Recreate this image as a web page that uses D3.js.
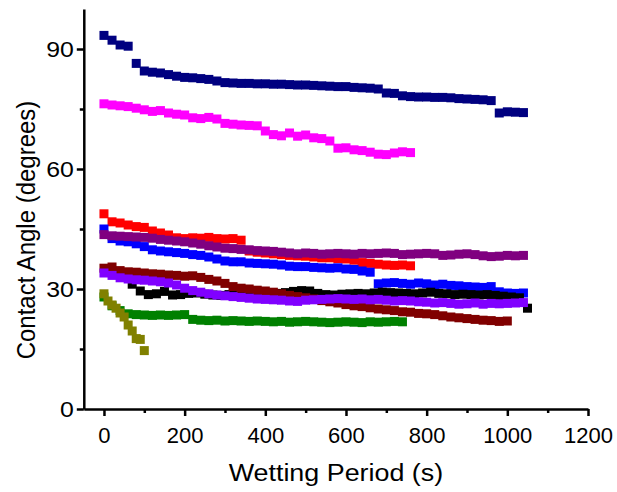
<!DOCTYPE html>
<html>
  <head>
    <meta charset="utf-8"/>
    <script src="https://d3js.org/d3.v7.min.js"></script>
    <style type="text/css">

html, body {
  margin: 0;
  padding: 0;
  background: #fff;
}

svg text {
  font-family: Arial, "Liberation Sans", sans-serif;
  fill: #000;
}

.axis path, .axis line {
  stroke: #000;
  stroke-width: 2.5px;
}

    </style>
  </head>
  <body>
    <svg id="chart" width="617" height="492"></svg>
    <script type="text/javascript">

// axis ticks
var xTicks = [0, 200, 400, 600, 800, 1000, 1200],
    xMinor = [100, 300, 500, 700, 900, 1100],
    yTicks = [0, 30, 60, 90],
    yMinor = [15, 45, 75];

// contact angle readings, one value every 20 s unless noted
var navy = [93.4, 92.2, 91.0, 90.7, 86.4, 84.5, 84.2, 84.0, 83.6, 83.2, 82.9, 82.8, 82.6, 82.4, 82.0, 81.6,
  81.5, 81.4, 81.4, 81.3, 81.3, 81.2, 81.2, 81.1, 81.0, 81.0, 80.9, 80.8, 80.7, 80.6, 80.6, 80.4, 80.3,
  80.2, 80.0, 79.0, 78.9, 78.3, 78.1, 78.0, 78.0, 77.9, 77.9, 77.8, 77.6, 77.5, 77.4, 77.3, 77.1, 74.0,
  74.3, 74.2, 74.1];
var magenta = [76.3, 76.0, 75.8, 75.6, 75.2, 74.8, 74.4, 74.6, 74.0, 73.7, 73.5, 72.8, 72.6, 72.9, 72.5,
  71.4, 71.2, 71.0, 70.9, 70.8, 69.5, 68.6, 68.3, 69.0, 68.2, 68.5, 67.8, 67.6, 67.0, 65.2, 65.3, 64.8,
  64.6, 64.2, 63.7, 63.6, 64.0, 64.3, 64.1];
var red = [48.8, 46.8, 46.5, 46.0, 45.6, 45.4, 44.5, 44.0, 43.5, 42.8, 42.6, 42.8, 42.7, 42.9, 42.6, 42.5,
  42.6, 42.2, 39.5, 39.2, 39.0, 38.8, 38.6, 38.4, 38.3, 38.2, 38.0, 37.8, 37.8, 37.6, 37.5, 37.2, 36.6,
  36.4, 36.2, 36.0, 35.9, 36.0, 35.8];
var blue = [45.0, 42.6, 42.0, 41.8, 41.3, 40.6, 39.8, 39.5, 39.3, 39.1, 38.9, 38.6, 38.4, 38.0, 37.5, 37.0,
  36.8, 36.8, 36.5, 36.4, 36.3, 36.2, 36.0, 35.7, 35.6, 35.6, 35.4, 35.3, 35.2, 35.3, 35.0, 34.9, 34.5,
  34.2, 31.3, 31.5, 31.6, 31.4, 31.2, 31.5, 31.3, 31.0, 31.2, 30.9, 30.8, 30.6, 30.5, 30.4, 30.6, 29.3,
  29.0, 28.9, 29.0];
var purple = [43.6, 43.3, 43.2, 43.1, 43.0, 42.9, 42.7, 42.4, 42.2, 42.0, 41.8, 41.5, 41.2, 40.8, 40.5,
  40.2, 40.1, 39.9, 39.8, 39.6, 39.5, 39.4, 39.2, 39.0, 38.8, 39.0, 38.9, 38.7, 38.8, 38.9, 38.8, 38.7,
  38.9, 38.8, 38.9, 39.0, 38.9, 38.6, 38.7, 38.8, 38.9, 38.8, 38.4, 38.5, 38.7, 38.8, 38.6, 38.3, 38.1,
  38.2, 38.4, 38.3, 38.4];
var maroon = [35.2, 35.5, 34.6, 34.3, 34.2, 34.0, 33.8, 33.7, 33.5, 33.4, 33.2, 33.3, 32.9, 32.4, 32.0,
  31.4, 30.6, 30.2, 30.0, 29.7, 29.5, 29.2, 28.8, 28.4, 28.1, 27.8, 27.5, 27.1, 26.8, 26.5, 26.1, 25.8,
  25.6, 25.3, 25.0, 24.8, 24.6, 24.3, 24.2, 23.9, 23.8, 23.6, 23.3, 23.0, 22.8, 22.6, 22.4, 22.2, 22.1,
  21.9, 22.0];
var violet = [34.0, 33.4, 32.8, 32.5, 32.3, 32.2, 32.0, 31.8, 31.5, 31.0, 30.2, 29.6, 29.2, 28.8, 28.5,
  28.3, 28.1, 27.9, 27.7, 27.5, 27.4, 27.3, 27.2, 27.0, 26.9, 27.2, 27.3, 27.4, 27.5, 27.6, 27.5, 27.4,
  27.5, 27.3, 27.4, 27.2, 27.0, 27.1, 27.0, 26.8, 26.7, 26.5, 26.6, 26.4, 26.2, 26.3, 26.5, 26.2, 26.4,
  26.3, 26.4, 26.5, 26.6];
// starts at 70 s
var black = [31.2, 29.5, 28.6, 28.8, 29.4, 28.5, 28.6, 28.9, 29.0, 28.7, 28.5, 28.4, 28.6, 28.8, 28.7,
  28.6, 28.8, 29.0, 28.9, 29.1, 29.4, 29.6, 29.5, 28.9, 28.6, 28.5, 28.7, 28.8, 28.9, 28.8, 29.0, 29.2,
  29.1, 29.0, 28.9, 28.8, 29.0, 29.2, 28.9, 28.8, 28.6, 28.7, 28.6, 28.5, 28.6, 28.4, 28.2, 28.0, 27.8,
  25.2];
var green = [28.0, 25.8, 24.6, 23.8, 23.6, 23.5, 23.4, 23.5, 23.4, 23.5, 23.6, 22.4, 22.2, 22.1, 22.2,
  22.0, 22.1, 22.0, 21.9, 22.0, 21.9, 21.8, 21.9, 21.7, 21.8, 21.9, 21.8, 21.7, 21.6, 21.7, 21.8, 21.7,
  21.6, 21.8, 21.7, 21.8, 21.9, 21.8];
// one value every 10 s
var olive = [28.8, 27.0, 26.0, 25.2, 24.0, 23.0, 21.0, 19.5, 17.6, 17.4, 14.6];

// drawing order, first is at the back
var series = [
  {values: red, start: 0, step: 20, color: "#ff0000"},
  {values: blue, start: 0, step: 20, color: "#0000ff"},
  {values: purple, start: 0, step: 20, color: "#800080"},
  {values: green, start: 0, step: 20, color: "#008000"},
  {values: black, start: 70, step: 20, color: "#000000"},
  {values: maroon, start: 0, step: 20, color: "#800000"},
  {values: violet, start: 0, step: 20, color: "#8000ff"},
  {values: olive, start: 0, step: 10, color: "#808000"},
  {values: magenta, start: 0, step: 20, color: "#ff00ff"},
  {values: navy, start: 0, step: 20, color: "#000080"}
];

var svg = d3.select("#chart");

var x = d3.scaleLinear().domain([-50, 1200]).range([83.8, 588]),
    y = d3.scaleLinear().domain([0, 100]).range([409, 9]);

var size = 9;

// markers
series.forEach(function(s) {
  svg.append("g")
    .selectAll("rect")
    .data(s.values)
    .enter().append("rect")
      .attr("x", function(d, i) { return x(s.start + i * s.step) - size / 2; })
      .attr("y", function(d) { return y(d) - size / 2; })
      .attr("width", size)
      .attr("height", size)
      .attr("fill", s.color);
});

// axes
svg.append("g")
    .attr("class", "axis x")
    .attr("transform", "translate(0," + y(0) + ")")
    .call(d3.axisBottom(x).tickValues(xTicks).tickFormat(d3.format("d"))
      .tickSize(7).tickSizeOuter(0).tickPadding(11));
svg.append("g")
    .attr("class", "axis")
    .attr("transform", "translate(0," + y(0) + ")")
    .call(d3.axisBottom(x).tickValues(xMinor).tickSize(4).tickFormat(""))
    .select(".domain").remove();

svg.append("g")
    .attr("class", "axis y")
    .attr("transform", "translate(" + x(-50) + ",0)")
    .call(d3.axisLeft(y).tickValues(yTicks).tickSize(7).tickSizeOuter(0).tickPadding(3));
svg.append("g")
    .attr("class", "axis")
    .attr("transform", "translate(" + x(-50) + ",0)")
    .call(d3.axisLeft(y).tickValues(yMinor).tickSize(4).tickFormat(""))
    .select(".domain").remove();

svg.selectAll(".axis text")
    .style("font-size", "22px")
    .style("font-family", "Arial, 'Liberation Sans', sans-serif");
// the y labels in the picture are a little wide
svg.selectAll(".axis.y text")
    .attr("x", -10 / 1.13)
    .attr("transform", "scale(1.13,1)");

// axis titles
svg.append("text")
    .attr("transform", "translate(" + (x(-50) + x(1200)) / 2 + ",481) scale(1.12,1)")
    .attr("text-anchor", "middle")
    .style("font-size", "24px")
    .text("Wetting Period (s)");

svg.append("text")
    .attr("transform", "translate(35,230) scale(1.1,1) rotate(-90)")
    .attr("text-anchor", "middle")
    .style("font-size", "24px")
    .text("Contact Angle (degrees)");

    </script>
  </body>
</html>
